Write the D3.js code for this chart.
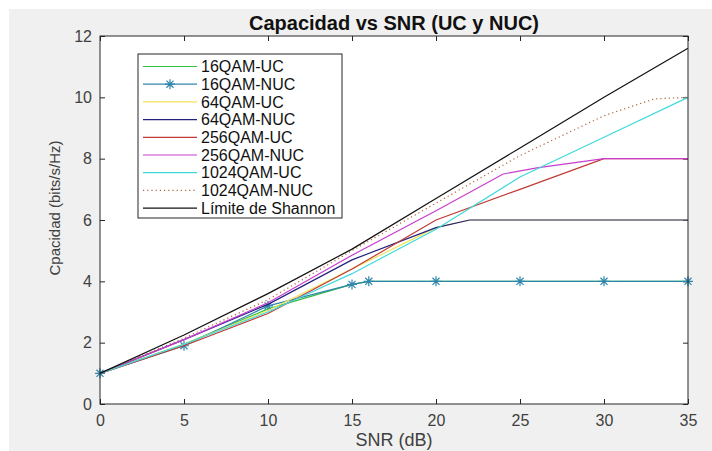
<!DOCTYPE html>
<html>
<head>
<meta charset="utf-8">
<script src="https://cdn.jsdelivr.net/npm/d3@7"></script>
<style>
  html, body { margin: 0; padding: 0; background: #ffffff; }
  svg { display: block; }
  text { font-family: "Liberation Sans", Arial, Helvetica, sans-serif; }
</style>
</head>
<body>
<div id="chart"></div>
<script>
// ---------------- data ----------------
const chartTitle = "Capacidad vs SNR (UC y NUC)";
const xLabel = "SNR (dB)";
const yLabel = "Cpacidad (bits/s/Hz)";
const xTicks = [0, 5, 10, 15, 20, 25, 30, 35];
const yTicks = [0, 2, 4, 6, 8, 10, 12];

const snr = [0, 5, 10, 15, 20, 25, 30, 35];
const snr16 = [0, 5, 10, 15, 16, 20, 25, 30, 35];
const snr64 = [0, 5, 10, 15, 20, 22, 25, 30, 35];
const snr256nuc = [0, 5, 10, 15, 20, 24, 26, 30, 35];
const snr1024nuc = [0, 5, 10, 15, 20, 25, 30, 33, 35];

const qam16UC   = [1, 1.95, 3.1, 3.9, 4, 4, 4, 4, 4];
const qam16NUC  = [1, 1.9, 3.2, 3.9, 4, 4, 4, 4, 4];
const qam64UC   = [1, 1.95, 3.05, 4.4, 5.75, 6, 6, 6, 6];
const qam64NUC  = [1, 2.1, 3.25, 4.7, 5.75, 6, 6, 6, 6];
const qam256UC  = [1, 1.9, 2.95, 4.4, 6.0, 7.0, 8, 8];
const qam256NUC = [1, 2.1, 3.3, 4.85, 6.3, 7.5, 7.7, 8, 8];
const qam1024UC = [1, 1.95, 3.0, 4.25, 5.7, 7.4, 8.7, 10];
const qam1024NUC = [1, 2.15, 3.4, 5.0, 6.55, 8.1, 9.4, 9.95, 10];
const shannon   = [1, 2.25, 3.6, 5.05, 6.7, 8.35, 10.0, 11.6];

const seriesNames = ["16QAM-UC", "16QAM-NUC", "64QAM-UC", "64QAM-NUC",
  "256QAM-UC", "256QAM-NUC", "1024QAM-UC", "1024QAM-NUC", "Límite de Shannon"];
const seriesX = [snr16, snr16, snr64, snr64, snr, snr256nuc, snr, snr1024nuc, snr];
const seriesY = [qam16UC, qam16NUC, qam64UC, qam64NUC, qam256UC, qam256NUC, qam1024UC, qam1024NUC, shannon];
const seriesColors = ["#2fc040", "#2f86ad", "#f2e25a", "#23237e", "#c03a35",
  "#c93ccf", "#3fd9dc", "#b0643a", "#111111"];
const seriesDash = [null, null, null, null, null, null, null, "1.2,3", null];
const seriesMarker = [false, true, false, false, false, false, false, false, false];

// ---------------- layout ----------------
const W = 712, H = 451;
const plot = { left: 100, right: 688, top: 36, bottom: 404 };

const svg = d3.select("#chart").append("svg").attr("width", W).attr("height", H);
svg.append("rect").attr("x", 9).attr("y", 9).attr("width", W - 9).attr("height", H - 9).attr("fill", "#f0f0f0");
svg.append("rect").attr("x", plot.left).attr("y", plot.top)
  .attr("width", plot.right - plot.left).attr("height", plot.bottom - plot.top).attr("fill", "#ffffff");

const x = d3.scaleLinear().domain([0, 35]).range([plot.left, plot.right]);
const y = d3.scaleLinear().domain([0, 12]).range([plot.bottom, plot.top]);

const axisColor = "#262626";
const tickLen = 5;

function styleAxis(g) {
  g.select(".domain").remove();
  g.selectAll(".tick line").attr("stroke", axisColor);
  g.selectAll(".tick text").attr("fill", "#404040").style("font-size", "16px");
}

svg.append("g").attr("transform", `translate(0,${plot.bottom})`)
  .call(d3.axisBottom(x).tickValues(xTicks).tickSize(-tickLen).tickPadding(11).tickFormat(d3.format("d")))
  .call(styleAxis);
svg.append("g").attr("transform", `translate(0,${plot.top})`)
  .call(d3.axisTop(x).tickValues(xTicks).tickSize(-tickLen).tickFormat(""))
  .call(styleAxis);
svg.append("g").attr("transform", `translate(${plot.left},0)`)
  .call(d3.axisLeft(y).tickValues(yTicks).tickSize(-tickLen).tickPadding(8).tickFormat(d3.format("d")))
  .call(styleAxis);
svg.append("g").attr("transform", `translate(${plot.right},0)`)
  .call(d3.axisRight(y).tickValues(yTicks).tickSize(-tickLen).tickFormat(""))
  .call(styleAxis);

// ---------------- lines ----------------
const lineGen = d3.line().x(d => x(d[0])).y(d => y(d[1]));
const lineG = svg.append("g");

function asteriskPath(r) {
  const a = r * Math.SQRT1_2;
  return `M${-r},0L${r},0M0,${-r}L0,${r}M${-a},${-a}L${a},${a}M${-a},${a}L${a},${-a}`;
}

seriesNames.forEach((name, i) => {
  const pts = seriesX[i].map((xv, j) => [xv, seriesY[i][j]]);
  lineG.append("path").datum(pts)
    .attr("d", lineGen)
    .attr("fill", "none")
    .attr("stroke", seriesColors[i])
    .attr("stroke-width", 1.2)
    .attr("stroke-dasharray", seriesDash[i]);
  if (seriesMarker[i]) {
    lineG.selectAll(null).data(pts).enter().append("path")
      .attr("transform", d => `translate(${x(d[0])},${y(d[1])})`)
      .attr("d", asteriskPath(5))
      .attr("fill", "none")
      .attr("stroke", seriesColors[i])
      .attr("stroke-width", 1.2);
  }
});

// axes box
svg.append("rect").attr("x", plot.left).attr("y", plot.top)
  .attr("width", plot.right - plot.left).attr("height", plot.bottom - plot.top)
  .attr("fill", "none").attr("stroke", axisColor).attr("stroke-width", 1);

// ---------------- legend ----------------
const leg = { left: 138, top: 54, right: 342, bottom: 218 };
svg.append("rect").attr("x", leg.left).attr("y", leg.top)
  .attr("width", leg.right - leg.left).attr("height", leg.bottom - leg.top)
  .attr("fill", "#ffffff").attr("stroke", axisColor).attr("stroke-width", 1);
seriesNames.forEach((name, i) => {
  const cy = 66.5 + 17.7 * i;
  svg.append("line").attr("x1", 143).attr("x2", 197).attr("y1", cy).attr("y2", cy)
    .attr("stroke", seriesColors[i]).attr("stroke-width", 1.2)
    .attr("stroke-dasharray", seriesDash[i]);
  if (seriesMarker[i]) {
    svg.append("path").attr("transform", `translate(170,${cy})`)
      .attr("d", asteriskPath(5)).attr("fill", "none")
      .attr("stroke", seriesColors[i]).attr("stroke-width", 1.2);
  }
  svg.append("text").attr("x", 201).attr("y", cy).attr("dy", "0.35em")
    .style("font-size", "16px").attr("fill", "#111").text(name);
});

// ---------------- labels ----------------
svg.append("text").attr("x", (plot.left + plot.right) / 2).attr("y", 30)
  .attr("text-anchor", "middle").style("font-size", "20px").style("font-weight", "bold")
  .attr("fill", "#111").text(chartTitle);
svg.append("text").attr("x", (plot.left + plot.right) / 2).attr("y", 446)
  .attr("text-anchor", "middle").style("font-size", "18px").attr("fill", "#404040").text(xLabel);
svg.append("text").attr("transform", `translate(60,${(plot.top + plot.bottom) / 2 - 12}) rotate(-90)`)
  .attr("text-anchor", "middle").style("font-size", "15px").attr("fill", "#404040").text(yLabel);
</script>
</body>
</html>
